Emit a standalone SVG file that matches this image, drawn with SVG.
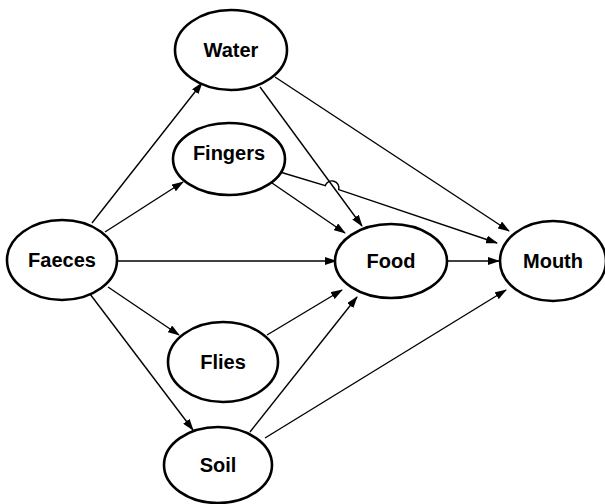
<svg xmlns="http://www.w3.org/2000/svg" width="605" height="504" viewBox="0 0 605 504">
<style>
.node ellipse{fill:#fff;stroke:#000;stroke-width:2.6}
.node text{font-family:"Liberation Sans",Arial,sans-serif;font-weight:bold;font-size:20px;text-anchor:middle;fill:#000}
.edges path,.edges line{fill:none;stroke:#000;stroke-width:1.4;marker-end:url(#ah)}
</style>
<defs>
<marker id="ah" markerUnits="userSpaceOnUse" markerWidth="12" markerHeight="8" refX="11" refY="4" orient="auto">
<path d="M0,0 L12,4 L0,8 z" fill="#000"/>
</marker>
</defs>
<rect width="605" height="504" fill="#fff"/>
<g class="edges">
<line x1="92" y1="223" x2="202" y2="83"/>
<line x1="105" y1="232" x2="183" y2="182"/>
<line x1="117" y1="261" x2="336" y2="261"/>
<line x1="108" y1="287" x2="179" y2="335"/>
<line x1="90" y1="294" x2="193" y2="430"/>
<line x1="260" y1="87" x2="362" y2="226"/>
<line x1="275" y1="77" x2="509" y2="231"/>
<line x1="272" y1="183" x2="345" y2="233"/>
<path d="M280,172 L325.3,185.6 A7,7 0 0 1 338.7,189.6 L497,243"/>
<line x1="447" y1="261" x2="499" y2="261"/>
<line x1="267" y1="335" x2="342" y2="290"/>
<line x1="250" y1="432" x2="357" y2="297"/>
<line x1="265" y1="438" x2="506" y2="290"/>
</g>
<g id="water" class="node"><ellipse cx="231" cy="50" rx="56" ry="40"/><text x="231" y="57">Water</text></g>
<g id="fingers" class="node"><ellipse cx="229" cy="159" rx="56" ry="36"/><text x="229" y="160">Fingers</text></g>
<g id="faeces" class="node"><ellipse cx="62" cy="260" rx="55" ry="40"/><text x="62" y="267">Faeces</text></g>
<g id="food" class="node"><ellipse cx="391" cy="261" rx="56" ry="37"/><text x="391" y="268">Food</text></g>
<g id="mouth" class="node"><ellipse cx="553" cy="261" rx="53" ry="40"/><text x="553" y="268">Mouth</text></g>
<g id="flies" class="node"><ellipse cx="223" cy="362" rx="55" ry="40"/><text x="223" y="369">Flies</text></g>
<g id="soil" class="node"><ellipse cx="218" cy="465" rx="54" ry="38"/><text x="218" y="472">Soil</text></g>
</svg>
